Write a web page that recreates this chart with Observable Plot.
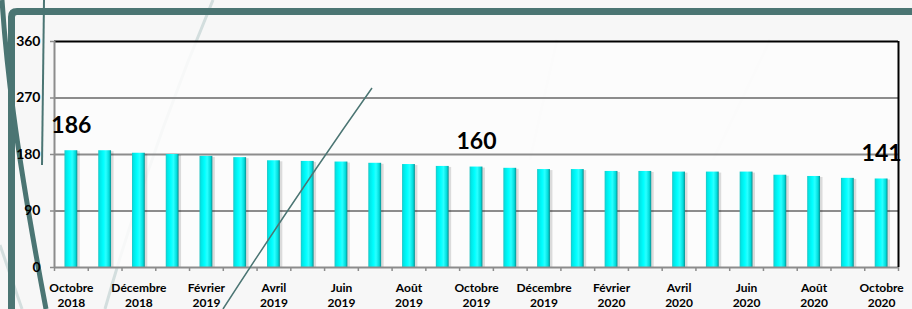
<!DOCTYPE html>
<html><head><meta charset="utf-8">
<script src="https://cdn.jsdelivr.net/npm/d3@7"></script>
<script src="https://cdn.jsdelivr.net/npm/@observablehq/plot@0.6"></script>
<style>
html,body{margin:0;padding:0;background:#f7f7f7;}
#wrap{position:relative;width:912px;height:309px;overflow:hidden;}
#bg,#fg,#chart{position:absolute;left:0;top:0;}
#fg{pointer-events:none;}
</style></head><body>
<div id="wrap">
<svg id="bg" width="912" height="309">
  <path d="M213,0 Q150,150 105,309" fill="none" stroke="#d3dede" stroke-width="3"/>
  <path d="M0,245 L22,309" fill="none" stroke="#d3dede" stroke-width="3"/>
  <path d="M557,40 L530,160" fill="none" stroke="#f0f0f0" stroke-width="3"/>
  <path d="M770,40 L713,160" fill="none" stroke="#f0f0f0" stroke-width="3"/>
  <path d="M11.5,309 L11.5,17 Q11.5,11.5 17,11.5 L912,11.5" fill="none" stroke="#4b7573" stroke-width="7"/>
  <path d="M2,0 C6,60 14,140 46,309" fill="none" stroke="#4b7573" stroke-width="5"/>
  <path d="M44,0 L42,165" fill="none" stroke="#4b7573" stroke-width="2"/>
</svg>
<div id="chart"></div>
<svg id="fg" width="912" height="309">
  <path d="M372,88 Q300,190 223,309" fill="none" stroke="#4b7573" stroke-width="1.5"/>
</svg>
</div>
<script>
const months = ["Octobre","Novembre","Décembre","Janvier","Février","Mars","Avril","Mai","Juin","Juillet","Août","Septembre",
  "Octobre","Novembre","Décembre","Janvier","Février","Mars","Avril","Mai","Juin","Juillet","Août","Septembre","Octobre"];
const years = ["2018","2018","2018","2019","2019","2019","2019","2019","2019","2019","2019","2019",
  "2019","2019","2019","2020","2020","2020","2020","2020","2020","2020","2020","2020","2020"];
const values = [186,186,182,180,177,175,170,169,168,166,164,161,160,158,156,156,153,153,152,152,152,147,145,142,141];
const yTicks = [0,90,180,270,360];
const labeledIdx = [0,12,24];

const keys = months.map((m,i) => m + " " + years[i]);
const data = keys.map((k,i) => ({key:k, month:months[i], year:years[i], value:values[i], i}));
const xLabelData = data.filter(d => d.i % 2 === 0);
const valueLabelData = data.filter(d => labeledIdx.includes(d.i));

const W = 912, H = 309, mL = 54, mR = 14, mT = 41, mB = 42;
const step = (W - mL - mR) / keys.length;
const gray = "#8c8c8c";

const svg = Plot.plot({
  width: W, height: H,
  marginLeft: mL, marginRight: mR, marginTop: mT, marginBottom: mB,
  style: {background: "transparent", fontFamily: "Lato", color: "#000"},
  x: {type: "band", domain: keys, paddingInner: 0.62, paddingOuter: 0.31, round: false, axis: null},
  y: {domain: [0, 360], axis: null},
  marks: [
    Plot.frame({fill: "#fdfdfd", fillOpacity: 0.85, stroke: "none"}),
    Plot.ruleY(yTicks.filter(t => t > 0 && t < 360), {stroke: gray, strokeWidth: 2}),
    Plot.ruleY([360], {stroke: "#000", strokeWidth: 2}),
    Plot.barY(data, {x: "key", y: "value", fill: "#000", fillOpacity: 0.13, dx: 2.5, dy: 1}),
    Plot.barY(data, {x: "key", y: "value", fill: "url(#barGrad)"}),
    Plot.ruleY([0], {stroke: gray, strokeWidth: 2}),
    Plot.ruleX([keys[0]], {stroke: gray, strokeWidth: 2, dx: -step/2}),
    Plot.ruleX(keys, {x: d => d, y1: 0, y2: 0, insetTop: 4, stroke: gray, strokeWidth: 1.5, dx: -step/2}),
    Plot.ruleX([keys[keys.length-1]], {x: d => d, y1: 0, y2: 0, insetTop: 4, stroke: gray, strokeWidth: 1.5, dx: step/2}),
    Plot.axisY(yTicks, {label: null, tickSize: 4, tickPadding: 10, fontSize: 14, fontWeight: "bold", stroke: gray, strokeWidth: 1.5}),
    Plot.text(xLabelData, {x: "key", y: 0, text: d => d.month + "\n" + d.year, lineAnchor: "top", dy: 14, fontSize: 12, fontWeight: "bold", lineHeight: 1.25}),
    Plot.text(valueLabelData, {x: "key", y: "value", text: d => String(d.value), dy: -25, fontSize: 23, fontWeight: "bold"}),
    Plot.ruleX([keys[keys.length-1]], {stroke: "#000", strokeWidth: 2, dx: step/2})
  ]
});

const defs = d3.select(svg).insert("defs", ":first-child");
const grad = defs.append("linearGradient").attr("id", "barGrad")
  .attr("x1", "0").attr("x2", "1").attr("y1", "0").attr("y2", "0");
[["0%","#22c3c3"],["12%","#00e6e6"],["40%","#00ffff"],["60%","#2affff"],["85%","#00dcdc"],["100%","#0b8d8d"]]
  .forEach(([o,c]) => grad.append("stop").attr("offset", o).attr("stop-color", c));

document.getElementById("chart").appendChild(svg);
</script>
</body></html>
